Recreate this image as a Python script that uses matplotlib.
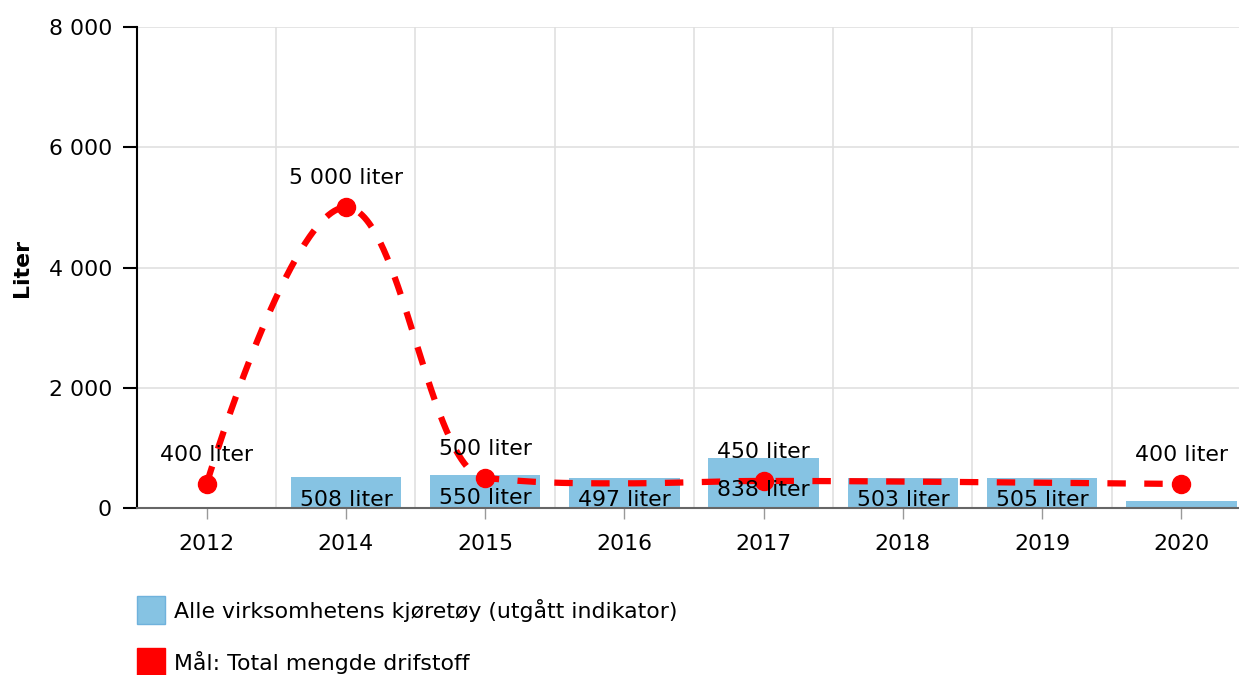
import numpy as np
import matplotlib
matplotlib.use("Agg")
import matplotlib.pyplot as plt
from matplotlib.patches import Rectangle
from matplotlib.ticker import FuncFormatter

categories = ["2012", "2014", "2015", "2016", "2017", "2018", "2019", "2020"]
bar_values = [None, 508, 550, 497, 838, 503, 505, 120]
bar_labels = [None, "508 liter", "550 liter", "497 liter", "838 liter", "503 liter", "505 liter", None]
goal_values = [400, 5000, 500, 410, 450, 440, 420, 400]
goal_labels = ["400 liter", "5 000 liter", "500 liter", None, "450 liter", None, None, "400 liter"]
goal_markers = [True, True, True, False, True, False, False, True]
series_names = ["Alle virksomhetens kjøretøy (utgått indikator)", "Mål: Total mengde drifstoff"]
y_title = "Liter"

BAR_COLOR = "#86c3e3"
RED = "#ff0000"
FS = 15.8

W, H = 1239, 675
fig = plt.figure(figsize=(W / 100, H / 100), dpi=100)
left, right, top, bottom = 137, 1251, 27, 508
ax = fig.add_axes([left / W, 1 - bottom / H, (right - left) / W, (bottom - top) / H])

x = np.arange(len(categories))

# bars
for i, v in enumerate(bar_values):
    if v is None:
        continue
    ax.bar(i, v, width=0.795, color=BAR_COLOR, zorder=2)
    if bar_labels[i]:
        ax.annotate(bar_labels[i], (i, v / 2), xytext=(0, -7), textcoords="offset pixels",
                    ha="center", va="center", fontsize=FS, color="black", zorder=5)

# Highcharts-like spline through the points
pts = [(i, v) for i, v in enumerate(goal_values) if v is not None]
sm = 1.5
den = sm + 1
rc = {}
lc = {}
for k, (px, py) in enumerate(pts):
    if 0 < k < len(pts) - 1:
        lx, ly = pts[k - 1]
        nx, ny = pts[k + 1]
        lcx = (sm * px + lx) / den
        lcy = (sm * py + ly) / den
        rcx = (sm * px + nx) / den
        rcy = (sm * py + ny) / den
        corr = 0
        if rcx != lcx:
            corr = (rcy - lcy) * (rcx - px) / (rcx - lcx) + py - rcy
        lcy += corr
        rcy += corr
        if lcy > ly and lcy > py:
            lcy = max(ly, py); rcy = 2 * py - lcy
        elif lcy < ly and lcy < py:
            lcy = min(ly, py); rcy = 2 * py - lcy
        if rcy > ny and rcy > py:
            rcy = max(ny, py); lcy = 2 * py - rcy
        elif rcy < ny and rcy < py:
            rcy = min(ny, py); lcy = 2 * py - rcy
        lc[k] = (lcx, lcy)
        rc[k] = (rcx, rcy)

cx, cy = [], []
t = np.linspace(0, 1, 120)
for k in range(1, len(pts)):
    p0 = pts[k - 1]
    p1 = rc.get(k - 1, pts[k - 1])
    p2 = lc.get(k, pts[k])
    p3 = pts[k]
    bx = (1 - t) ** 3 * p0[0] + 3 * (1 - t) ** 2 * t * p1[0] + 3 * (1 - t) * t ** 2 * p2[0] + t ** 3 * p3[0]
    by = (1 - t) ** 3 * p0[1] + 3 * (1 - t) ** 2 * t * p1[1] + 3 * (1 - t) * t ** 2 * p2[1] + t ** 3 * p3[1]
    cx.extend(bx)
    cy.extend(by)

lw = 4.5
ax.plot(cx, cy, color=RED, lw=lw, linestyle=(0, (2.95, 2.95)), dash_capstyle="butt", zorder=3)
mx = [i for i, v in enumerate(goal_values) if v is not None and goal_markers[i]]
my = [goal_values[i] for i in mx]
ax.plot(mx, my, "o", color=RED, markersize=13, zorder=4)
for i, v in enumerate(goal_values):
    if v is not None and goal_labels[i]:
        ax.annotate(goal_labels[i], (i, v), xytext=(0, 29), textcoords="offset pixels",
                    ha="center", va="center", fontsize=FS, color="black", zorder=6)

ax.set_xlim(-0.5, len(categories) - 0.5)
ax.set_ylim(0, 8000)
ax.set_yticks([0, 2000, 4000, 6000, 8000])
ax.yaxis.set_major_formatter(FuncFormatter(lambda v, p: f"{int(v):,}".replace(",", " ")))
ax.set_xticks(x)
ax.set_xticklabels(categories)
ax.set_xticks(np.arange(0.5, len(categories) - 0.5, 1), minor=True)

ax.grid(axis="y", color="#e0e0e0", lw=1.2, zorder=0)
ax.grid(axis="x", which="minor", color="#e0e0e0", lw=1.2, zorder=0)
ax.set_axisbelow(True)

for s in ["top", "right"]:
    ax.spines[s].set_visible(False)
ax.spines["left"].set_color("black")
ax.spines["left"].set_linewidth(1.5)
ax.spines["bottom"].set_color("#666666")
ax.spines["bottom"].set_linewidth(1.5)

ax.tick_params(axis="y", length=10, width=1.5, color="black", labelsize=FS, pad=8)
ax.tick_params(axis="x", which="major", length=8, width=1, color="#999999", labelsize=FS, pad=11)
ax.tick_params(axis="x", which="minor", length=0)

fig.text(22 / W, 1 - 268 / H, y_title, rotation=90, ha="center", va="center",
         fontsize=FS, fontweight="bold")

# legend
for j, (name, col, ycen) in enumerate([(series_names[0], BAR_COLOR, 610), (series_names[1], RED, 662)]):
    fig.patches.append(Rectangle((137 / W, 1 - (ycen + 14) / H), 28 / W, 28 / H,
                                 transform=fig.transFigure, facecolor=col,
                                 edgecolor="#6fb2dc" if j == 0 else RED, lw=1))
    fig.text(174 / W, 1 - ycen / H, name, ha="left", va="center", fontsize=FS)

fig.savefig("out.png", dpi=100)
